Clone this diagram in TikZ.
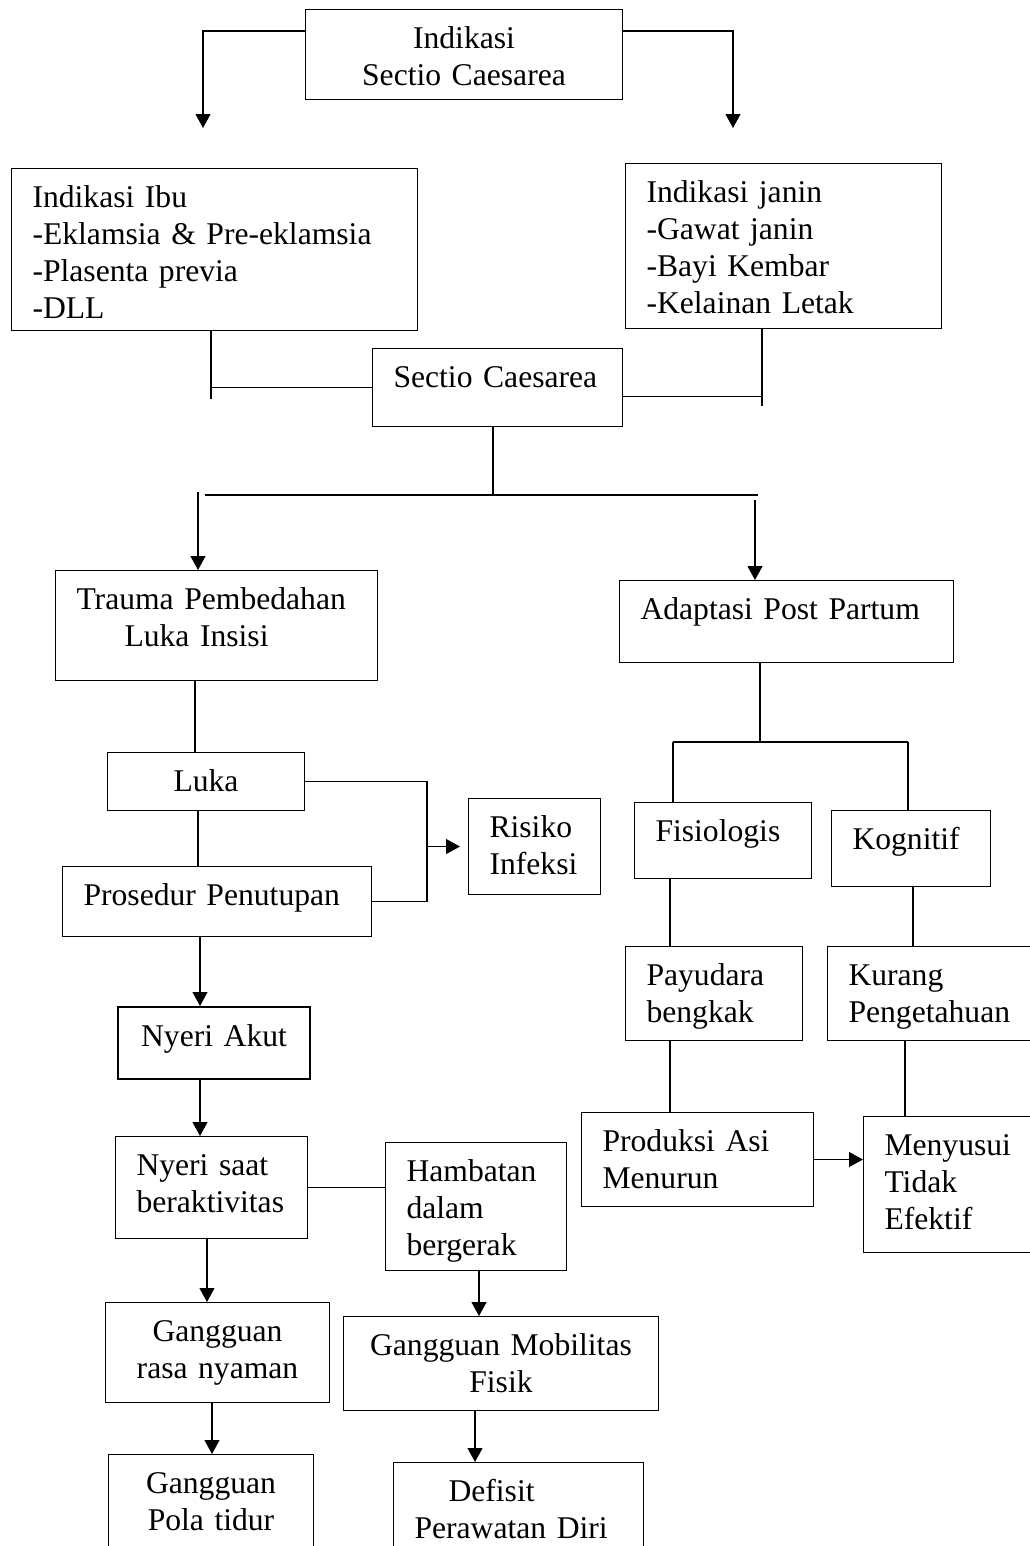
\documentclass[tikz,border=0pt]{standalone}
\usepackage{fontspec}
\setmainfont{Liberation Serif}
\usetikzlibrary{arrows.meta}
\hyphenpenalty=10000
\exhyphenpenalty=10000

\begin{document}
\begin{tikzpicture}[x=0.02cm, y=-0.02cm, line width=0.6pt,
  >={Triangle[length=0.28cm, width=0.3cm]},
  box/.style={draw, anchor=north west, inner xsep=0.42cm, inner ysep=0pt,
    text height=0.78cm, font=\fontsize{18}{21}\selectfont, align=left},
  boxc/.style={box, align=center}]
  \useasboundingbox (0,0) rectangle (1030,1546);

  % Indikasi
  \node[boxc, text width=5.5cm, text depth=1.02cm] (ind) at (305,9) {Indikasi\\Sectio Caesarea};
  \node[box, text width=7.28cm, text depth=2.46cm] (ibu) at (11,168)
    {Indikasi Ibu\\-Eklamsia \& Pre-eklamsia\\-Plasenta previa\\-DLL};
  \node[box, text width=5.48cm, text depth=2.52cm] (janin) at (625,163)
    {Indikasi janin\\-Gawat janin\\-Bayi Kembar\\-Kelainan Letak};
  \node[box, text width=4.16cm, text depth=0.78cm] (sc) at (372,348) {Sectio Caesarea};

  % Left branch
  \node[box, text width=5.6cm, text depth=1.42cm] (trauma) at (55,570)
    {Trauma Pembedahan\\\hspace*{0.96cm}Luka Insisi};
  \node[boxc, text width=3.1cm, text depth=0.38cm] (luka) at (107,752) {Luka};
  \node[box, text width=5.34cm, text depth=0.62cm] (pros) at (62,866) {Prosedur Penutupan};
  \node[box, text width=1.8cm, text depth=1.14cm] (risiko) at (468,798) {Risiko\\Infeksi};
  \node[boxc, line width=1.2pt, text width=3.0cm, text depth=0.66cm] (akut) at (117,1006) {Nyeri Akut};
  \node[box, text width=3.0cm, text depth=1.26cm] (nsaat) at (115,1136) {Nyeri saat\\beraktivitas};
  \node[box, text width=2.78cm, text depth=1.78cm] (hamb) at (385,1142) {Hambatan\\dalam\\bergerak};
  \node[boxc, text width=3.64cm, text depth=1.22cm] (rasa) at (105,1302) {Gangguan\\rasa nyaman};
  \node[boxc, text width=5.46cm, text depth=1.1cm] (mob) at (343,1316) {Gangguan Mobilitas\\Fisik};
  \node[boxc, text width=3.26cm, text depth=1.42cm] (pola) at (108,1454) {Gangguan\\Pola tidur};
  \node[box, text width=4.16cm, text depth=1.22cm] (defi) at (393,1462)
    {\hspace*{0.68cm}Defisit\\Perawatan Diri};

  % Right branch
  \node[box, text width=5.84cm, text depth=0.86cm] (adapt) at (619,580) {Adaptasi Post Partum};
  \node[box, text width=2.7cm, text depth=0.74cm] (fisio) at (634,802) {Fisiologis};
  \node[box, text width=2.34cm, text depth=0.74cm] (kogn) at (831,810) {Kognitif};
  \node[box, text width=2.7cm, text depth=1.1cm] (payu) at (625,946) {Payudara\\bengkak};
  \node[box, text width=3.56cm, text depth=1.1cm] (kurang) at (827,946) {Kurang\\Pengetahuan};
  \node[box, text width=3.8cm, text depth=1.1cm] (prod) at (581,1112) {Produksi Asi\\Menurun};
  \node[box, text width=2.96cm, text depth=1.94cm] (meny) at (863,1116) {Menyusui\\Tidak\\Efektif};

  % junction points
  \coordinate (topl) at (203,31);  \coordinate (arrl) at (203,128);
  \coordinate (topr) at (733,31);  \coordinate (arrr) at (733,128);
  \coordinate (ibl) at (211,399);  \coordinate (jnr) at (762,406);
  \coordinate (split) at (493,495);
  \coordinate (spl) at (205,495);  \coordinate (spr) at (758,495);
  \coordinate (dl) at (198,492);   \coordinate (dr) at (755,500);
  \coordinate (adj) at (760,742);
  \coordinate (adl) at (673,742);  \coordinate (adr) at (908,742);
  \coordinate (brk) at (427,0);
  \path (195,0) coordinate (ka) (198,0) coordinate (kb) (200,0) coordinate (kc)
        (207,0) coordinate (kd) (212,0) coordinate (ke) (479,0) coordinate (kf)
        (475,0) coordinate (kg) (670,0) coordinate (kh) (913,0) coordinate (ki)
        (905,0) coordinate (kj);

  % Indikasi -> ibu / janin
  \draw[->] (ind.west |- topl) -| (arrl);
  \draw[->] (ind.east |- topr) -| (arrr);

  % ibu / janin -> sectio
  \draw (ibu.south -| ibl) -- (ibl);
  \draw (sc.west) -- (sc.west -| ibl);
  \draw (janin.south -| jnr) -- (jnr);
  \draw ([yshift=-0.18cm]sc.east) -- ([yshift=-0.18cm]sc.east -| jnr);

  % sectio -> trauma / adaptasi
  \draw (sc.south -| split) -- (split);
  \draw (spl) -- (spr);
  \draw[->] (dl) -- (trauma.north -| dl);
  \draw[->] (dr) -- (adapt.north -| dr);

  % left column
  \draw (trauma.south -| ka) -- (luka.north -| ka);
  \draw (luka.south -| kb) -- (pros.north -| kb);
  \draw (luka.east) -- (luka.east -| brk) -- (pros.east -| brk) -- (pros.east);
  \draw[->, shorten >=0.16cm] (risiko.west -| brk) -- (risiko.west);
  \draw[->] (pros.south -| kc) -- (akut.north -| kc);
  \draw[->] (akut.south -| kc) -- (nsaat.north -| kc);
  \draw (nsaat.east) -- (nsaat.east -| hamb.west);
  \draw[->] (nsaat.south -| kd) -- (rasa.north -| kd);
  \draw[->] (rasa.south -| ke) -- (pola.north -| ke);
  \draw[->] (hamb.south -| kf) -- (mob.north -| kf);
  \draw[->] (mob.south -| kg) -- (defi.north -| kg);

  % right column
  \draw (adapt.south -| adj) -- (adj);
  \draw (adl) -- (adr);
  \draw (adl) -- (fisio.north -| adl);
  \draw (adr) -- (kogn.north -| adr);
  \draw (fisio.south -| kh) -- (payu.north -| kh);
  \draw (payu.south -| kh) -- (prod.north -| kh);
  \draw (kogn.south -| ki) -- (kurang.north -| ki);
  \draw (kurang.south -| kj) -- (meny.north -| kj);
  \draw[->] (prod.east) -- (prod.east -| meny.west);
\end{tikzpicture}
\end{document}
